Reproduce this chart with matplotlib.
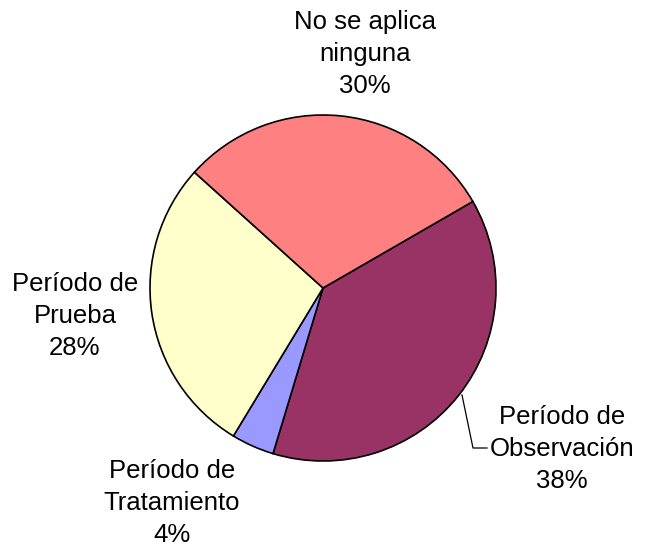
import matplotlib
matplotlib.use("Agg")
import matplotlib.pyplot as plt

# Data
categories = ["Período de\nObservación", "Período de\nTratamiento", "Período de\nPrueba", "No se aplica\nninguna"]
values = [38, 4, 28, 30]
colors = ["#993366", "#9999FF", "#FFFFCC", "#FF8080"]

# Layout (pixel coordinates, origin bottom-left)
W, H = 645, 551
center = (323, H - 288)
radius = 173
label_pos = [(562, H - 449), (172, H - 503), (75, H - 316), (365, H - 54)]

plt.rcParams['font.family'] = ['Liberation Sans', 'DejaVu Sans']

fig = plt.figure(figsize=(W / 100, H / 100), dpi=100)
ax = fig.add_axes([0, 0, 1, 1])
ax.set_xlim(0, W)
ax.set_ylim(0, H)
ax.set_aspect('equal')
ax.axis('off')

wedges, _ = ax.pie(values, colors=colors, startangle=30, counterclock=False,
                   center=center, radius=radius,
                   wedgeprops=dict(edgecolor='black', linewidth=1.2))
ax.set_xlim(0, W)
ax.set_ylim(0, H)

total = sum(values)
for cat, v, (x, y) in zip(categories, values, label_pos):
    ax.text(x, y, f"{cat}\n{round(100 * v / total)}%", ha='center', va='center',
            fontsize=18.5, linespacing=1.4, color='black')

# leader line for Observación
ax.plot([462, 473, 487], [H - 395, H - 448, H - 448], color='black', linewidth=0.9)

fig.savefig("out.png", dpi=100)
